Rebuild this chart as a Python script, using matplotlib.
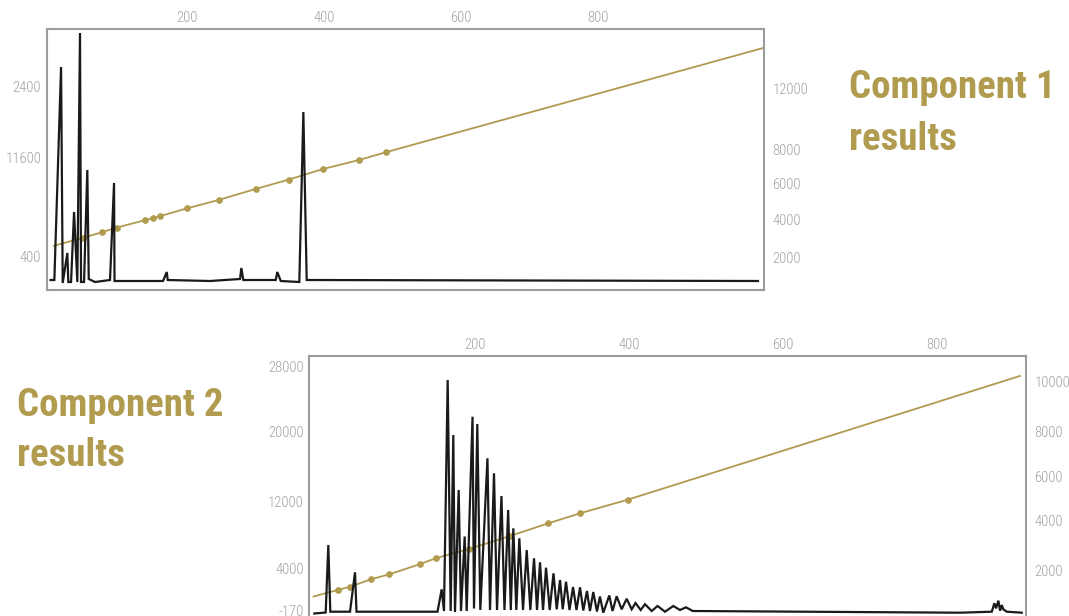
import os
import numpy as np
import matplotlib
matplotlib.use("Agg")
import matplotlib.pyplot as plt
from matplotlib import font_manager
from matplotlib.font_manager import FontProperties

GOLD = '#b09b4f'
GREY = '#a3a3a3'
FRAME = '#9c9c9c'

# component 1 - black series (left axis)
c1_x = [0, 5.6, 15.4, 17.8, 24.6, 26.0, 30.0, 34.4, 39.2, 43.1, 44.6, 49.0, 53.8, 55.9,
        65.1, 87.0, 92.9, 93.6, 164.5, 170.0, 171.4, 233.3, 277.2, 279.1, 282.0,
        329.4, 331.7, 336.7, 363.9, 369.8, 374.7, 1034.8]
c1_y = [1100, 1100, 22400, 800, 3800, 900, 900, 7900, 900, 25800, 900, 900, 12100, 1200,
        900, 1100, 10800, 1000, 1000, 1900, 1100, 1000, 1200, 2300, 1100,
        1100, 1900, 1000, 900, 17900, 1100, 1000]

# component 1 - gold series (right axis)
c1_gx = [3.7, 47.5, 75.3, 97.3, 138.2, 149.9, 160.2, 199.6, 246.5, 300.6, 348.8, 398.6,
         451.2, 490.7, 1042.2]
c1_gy = [2700, 3190, 3530, 3810, 4250, 4370, 4490, 4960, 5470, 6130, 6690, 7320,
         7860, 8330, 14580]

# component 2 - black series (left axis)
c2_x = [-8.8, 6.0, 9.4, 12.0, 37.6, 44.1, 46.0, 151.3, 156.7, 159.7, 164.5, 168.4,
        171.8, 174.0, 178.8, 181.8, 186.6, 189.2, 196.8, 198.7, 203.0, 206.9, 216.2,
        219.5, 224.7, 228.6, 234.4, 238.3, 243.1, 246.5, 249.8, 253.7, 257.6, 262.4,
        267.2, 271.9, 276.7, 280.6, 284.5, 288.4, 292.3, 297.1, 302.0, 306.2, 310.5,
        314.0, 318.3, 322.8, 327.4, 331.9, 336.5, 340.7, 345.5, 349.4, 353.7, 358.5,
        362.4, 366.7, 374.5, 378.7, 384.1, 390.6, 397.1, 403.6, 408.6, 415.3, 420.9,
        429.6, 437.2, 446.9, 457.7, 466.4, 474.2, 482.9, 830.3, 871.5, 874.9, 877.1,
        880.1, 882.3, 884.5, 886.5, 891.0, 910.5]
c2_y = [-1380, -1260, 6840, -1164, -1164, 3564, -1164, -1164, 1524, -1080, 26640, -1080,
        20040, -1200, 13440, -1080, 7860, -1080, 22236, -780, 21360, -960, 17244,
        -960, 15444, -960, 12720, -960, 11040, -960, 8844, -960, 7644, -960,
        6240, -960, 5244, -960, 4764, -960, 4116, -960, 3444, -876, 2640,
        -876, 2436, -960, 1800, -960, 1764, -1020, 1320, -1080, 1200, -1140,
        660, -1284, 780, -1080, 684, -876, 384, -876, -120, -960, -264,
        -1080, -480, -1164, -480, -960, -636, -1080, -1284, -1164, -156, -756,
        156, -1044, -360, -876, -1164, -1284]

# component 2 - gold series (right axis)
c2_gx = [-10.9, 21.6, 37.6, 64.8, 88.6, 128.9, 148.7, 192.2, 245.5, 295.3, 336.5, 399.2, 909.2]
c2_gy = [865, 1150, 1290, 1605, 1817, 2255, 2497, 2893, 3445, 3985, 4410, 4996, 10258]

x_ticks = [200, 400, 600, 800]
x_labels = ['200', '400', '600', '800']

# tick positions / labels as printed on the chart
c1_left_pos = [20500, 13350, 3430]
c1_left_lab = ['2400', '11600', '400']
c1_right_pos = [12160, 8520, 6460, 4320, 2040]
c1_right_lab = ['12000', '8000', '6000', '4000', '2000']
c2_left_pos = [28236, 20520, 12120, 4044, -1080]
c2_left_lab = ['28000', '20000', '12000', '4000', '-170']
c2_right_pos = [10003, 7907, 5965, 4095, 2000]
c2_right_lab = ['10000', '8000', '6000', '4000', '2000']


def find_font(keys):
    files = {}
    for f in font_manager.fontManager.ttflist:
        base = os.path.splitext(os.path.basename(f.fname))[0].lower()
        files.setdefault(base, f.fname)
    for k in keys:
        if k.lower() in files:
            return files[k.lower()]
    return None


tick_file = find_font(['RobotoCondensed-Light', 'NotoSans-CondensedLight',
                       'NotoSans-ExtraCondensedLight', 'NotoSans-Condensed',
                       'LiberationSansNarrow-Regular', 'DejaVuSansCondensed'])
head_file = find_font(['RobotoCondensed-Bold', 'NotoSans-ExtraCondensedBold',
                       'NotoSans-CondensedBold', 'LiberationSansNarrow-Bold',
                       'DejaVuSansCondensed-Bold'])


def fprop(fname, size, fallback_weight='normal'):
    if fname:
        return FontProperties(fname=fname, size=size)
    return FontProperties(family='DejaVu Sans', stretch='condensed',
                          weight=fallback_weight, size=size)


fig = plt.figure(figsize=(10.69, 6.16), dpi=100)
renderer = fig.canvas.get_renderer()


def fit_size(fname, text, size, target_w, weight='normal'):
    # shrink a font that is much wider than the chart's own face
    t = fig.text(0, 0, text, fontproperties=fprop(fname, size, weight))
    w = t.get_window_extent(renderer).width
    t.remove()
    if w > target_w:
        size = size * (target_w / w) ** 0.8
    return size


tick_size = fit_size(tick_file, '11600', 10.8, 36)
head_size = fit_size(head_file, 'Component 1', 34.3, 196, 'bold')
tick_fp = fprop(tick_file, tick_size)
head_fp = fprop(head_file, head_size, 'bold')


def panel(rect, xlim, bx, by, gx, gy, ylim_l, ylim_r, lpos, llab, rpos, rlab):
    ax = fig.add_axes(rect)
    axr = ax.twinx()
    ax.set_zorder(axr.get_zorder() + 1)
    ax.patch.set_visible(False)

    axr.plot(gx, gy, color=GOLD, lw=1.3, marker='o', ms=3.8,
             markevery=list(range(1, len(gx) - 1)), solid_capstyle='butt')
    ax.plot(bx, by, color='#1a1a1a', lw=1.6, solid_joinstyle='miter')

    ax.set_xlim(*xlim)
    ax.set_ylim(*ylim_l)
    axr.set_ylim(*ylim_r)

    ax.xaxis.tick_top()
    ax.set_xticks(x_ticks, x_labels, fontproperties=tick_fp, color=GREY)
    ax.set_yticks(lpos, llab, fontproperties=tick_fp, color=GREY)
    axr.set_yticks(rpos, rlab, fontproperties=tick_fp, color=GREY)

    ax.tick_params(axis='x', length=0, pad=3)
    ax.tick_params(axis='y', length=0, pad=4)
    axr.tick_params(axis='y', length=0, pad=6)
    for s in ax.spines.values():
        s.set_color(FRAME)
        s.set_linewidth(1.5)
    for s in axr.spines.values():
        s.set_visible(False)
    return ax


panel([0.04369, 0.52922, 0.67101, 0.42321], (-5.6, 1043.6),
      c1_x, c1_y, c1_gx, c1_gy, (100, 26170), (60, 15702),
      c1_left_pos, c1_left_lab, c1_right_pos, c1_right_lab)

panel([0.28934, -0.00974, 0.67044, 0.43230], (-15.3, 916.0),
      c2_x, c2_y, c2_gx, c2_gy, (-2400, 29556), (-210, 11108),
      c2_left_pos, c2_left_lab, c2_right_pos, c2_right_lab)

# headings
for x, y, s in [(849, 98.5, 'Component 1'), (849, 149.5, 'results'),
                (17, 416, 'Component 2'), (17, 466, 'results')]:
    fig.text(x / 1069, 1 - y / 616, s, color=GOLD, fontproperties=head_fp,
             va='baseline', ha='left')

fig.savefig('out.png', dpi=100)
